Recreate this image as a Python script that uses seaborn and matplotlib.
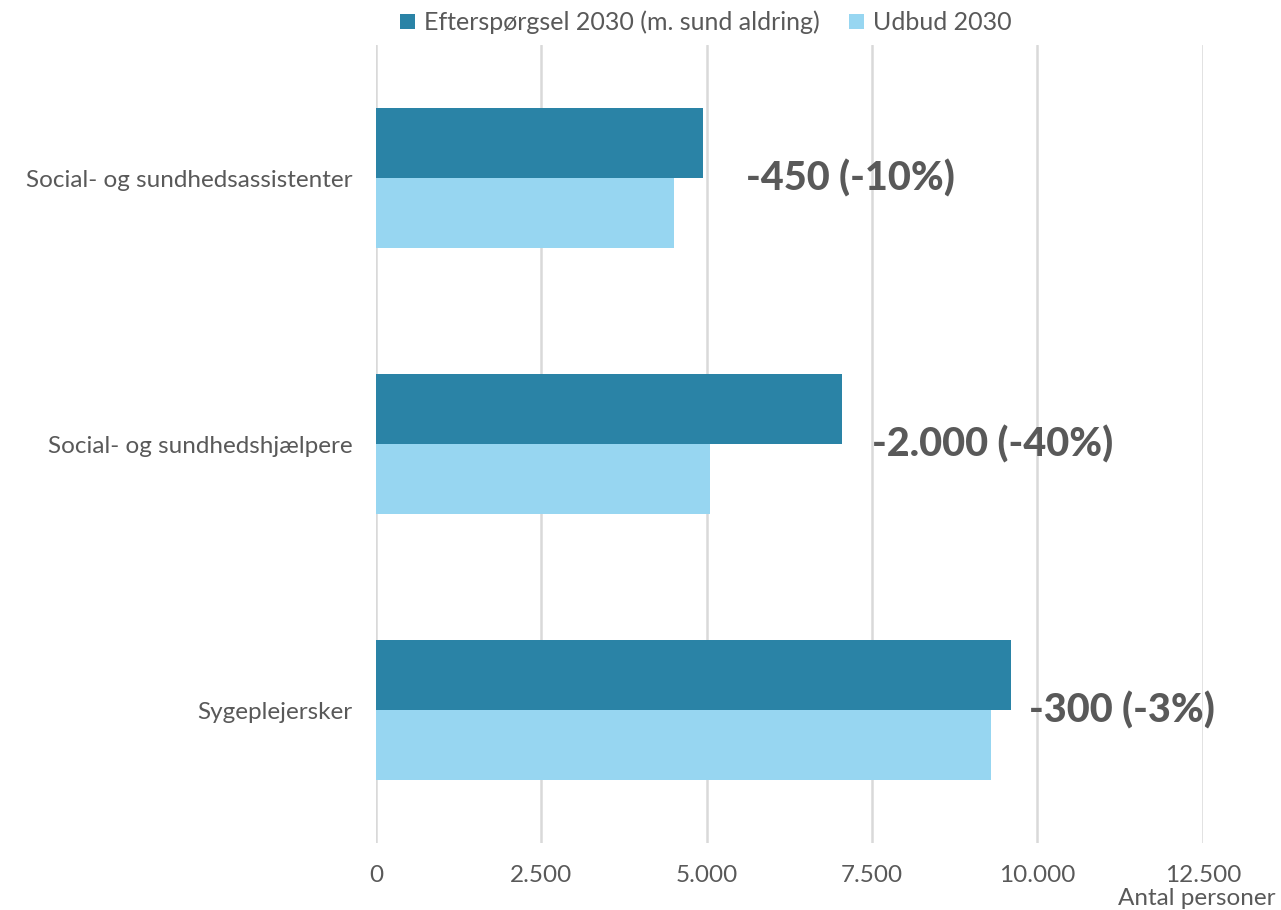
import matplotlib
matplotlib.use("Agg")
import matplotlib.pyplot as plt
import seaborn as sns
import pandas as pd
from matplotlib.patches import Patch

categories = ["Social- og sundhedsassistenter", "Social- og sundhedshjælpere", "Sygeplejersker"]
series_names = ["Efterspørgsel 2030 (m. sund aldring)", "Udbud 2030"]
demand = [4950, 7050, 9600]
supply = [4500, 5050, 9300]
gap_labels = ["-450 (-10%)", "-2.000 (-40%)", "-300 (-3%)"]
label_x = [5600, 7500, 9870]
xticks = [0, 2500, 5000, 7500, 10000, 12500]
xtick_labels = ["0", "2.500", "5.000", "7.500", "10.000", "12.500"]
colors = ["#2A83A6", "#97D6F1"]
text_color = "#595959"

df = pd.DataFrame({
    "category": categories * 2,
    "series": [series_names[0]] * 3 + [series_names[1]] * 3,
    "value": demand + supply,
})

sns.set_theme(style="white")
plt.rcParams["font.family"] = ["Lato", "DejaVu Sans"]

fig = plt.figure(figsize=(12.81, 9.10), dpi=100)
ax = fig.add_axes([0.2935, 0.0736, 0.939 - 0.2935, 0.9505 - 0.0736])

sns.barplot(data=df, y="category", x="value", hue="series", orient="h",
            palette=colors, width=0.525, ax=ax, legend=False, saturation=1,
            linewidth=0)

ax.set_xlim(0, 12500)
ax.set_ylim(2.5, -0.5)
ax.set_xticks(xticks)
ax.set_xticklabels(xtick_labels)
ax.tick_params(axis="x", length=0, pad=16, labelsize=17.5, labelcolor=text_color)
ax.tick_params(axis="y", length=0, pad=17, labelsize=17.5, labelcolor=text_color)
ax.set_xlabel("")
ax.set_ylabel("")
for s in ax.spines.values():
    s.set_visible(False)
ax.set_axisbelow(True)
ax.grid(axis="x", color="#d9d9d9", linewidth=1.8)
ax.grid(axis="y", visible=False)

for i, (lx, lab) in enumerate(zip(label_x, gap_labels)):
    ax.text(lx, i, lab, ha="left", va="center", fontsize=28.5, fontweight="black",
            color=text_color, clip_on=False)

fig.text(0.996, 1 - 905 / 910, "Antal personer", ha="right", va="baseline",
         fontsize=17.5, color=text_color)

handles = [Patch(facecolor=c, edgecolor="none") for c in colors]
fig.legend(handles, series_names, loc="upper center", bbox_to_anchor=(0.551, 1.013),
           ncol=2, frameon=False, fontsize=18, labelcolor=text_color,
           handlelength=0.6, handleheight=0.6, handletextpad=0.35, columnspacing=1.2)

fig.savefig("out.png", dpi=100)
